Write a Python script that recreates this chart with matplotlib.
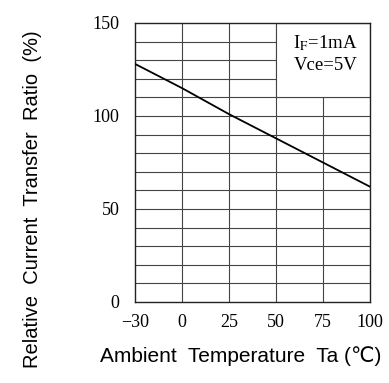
import matplotlib
matplotlib.use("Agg")
import matplotlib.pyplot as plt
from matplotlib.patches import Rectangle

# ambient temperature (categories, equally spaced on the chart)
temps = ["\u221230", "0", "25", "50", "75", "100"]
# relative current transfer ratio (%)
ratio = [128, 115, 101, 88, 75, 62]
y_ticks = [0, 50, 100, 150]

plt.rcParams["mathtext.fontset"] = "stix"
label_font = ["Liberation Sans", "DejaVu Sans"]

fig = plt.figure(figsize=(3.89, 3.83), dpi=100)
ax = fig.add_axes([0.347, 0.2115, 0.604, 0.7285])

xpos = list(range(len(temps)))
ax.set_xlim(0, len(temps) - 1)
ax.set_ylim(0, 150)

# grid
for x in xpos[1:-1]:
    ax.axvline(x, color="#444444", lw=0.8, zorder=1)
for y in range(10, 150, 10):
    ax.axhline(y, color="#444444", lw=0.8, zorder=1)

# white box for condition note
ax.add_patch(Rectangle((3, 110), 2, 40, facecolor="white", edgecolor="#444444",
                       lw=0.8, zorder=2))
ax.text(4.05, 139, "I$_\\mathrm{F}$=1mA", ha="center", va="center", fontsize=13.5,
        family="Liberation Serif", zorder=3)
ax.text(4.05, 127, "Vce=5V", ha="center", va="center", fontsize=13.5,
        family="Liberation Serif", zorder=3)

ax.plot(xpos, ratio, color="black", lw=1.3, zorder=4)

for s in ax.spines.values():
    s.set_linewidth(1.0)
    s.set_color("#222222")

ax.set_xticks(xpos)
ax.set_xticklabels(temps, family="Liberation Serif", fontsize=13)
ax.set_yticks(y_ticks)
ax.set_yticklabels([str(v) for v in y_ticks], family="Liberation Serif", fontsize=13)
ax.tick_params(axis="y", length=0, pad=11)
ax.tick_params(axis="x", length=0, pad=9)

ax.set_xlabel("Ambient  Temperature  Ta (\u2103)", fontsize=15, family=label_font)
ax.set_ylabel("Relative  Current  Transfer  Ratio  (%)", fontsize=14.5, family=label_font)
ax.xaxis.set_label_coords(0.449, -0.194)
ax.yaxis.set_label_coords(-0.438, 0.369)
ax.xaxis.label.set_va("center")
ax.yaxis.label.set_va("center")

fig.savefig("out.png", dpi=100)
